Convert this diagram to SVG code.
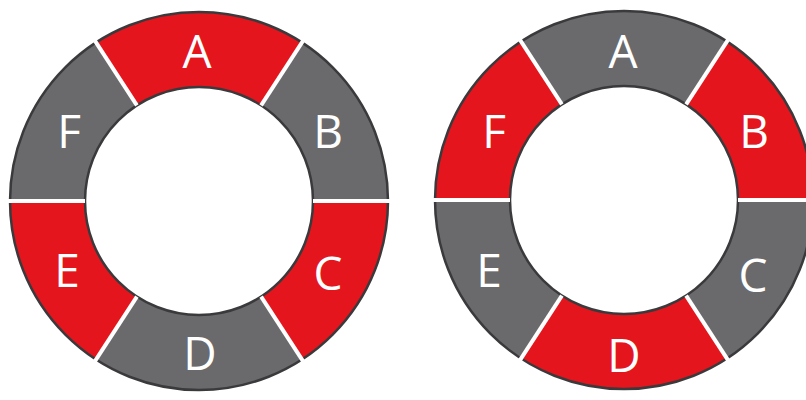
<svg xmlns="http://www.w3.org/2000/svg" xmlns:xlink="http://www.w3.org/1999/xlink" width="806" height="400" viewBox="0 0 806 400">
  <style>
    .red { fill: #e5151d; }
    .gray { fill: #6a6a6c; }
    .lbl { fill: #ffffff; font-family: "Open Sans", "Liberation Sans", sans-serif; font-size: 46px; text-anchor: middle; }
    .rim { fill: none; stroke: #3a3a3c; stroke-width: 2.5; }
    .div { stroke: #ffffff; stroke-width: 4; }
  </style>
  <defs>
    <path id="sA" d="M102.9,-158.5 A189,189 0 0 0 -102.9,-158.5 L-62.1,-95.6 A114,114 0 0 1 62.1,-95.6 Z"/>
    <path id="sB" d="M189,0 A189,189 0 0 0 102.9,-158.5 L62.1,-95.6 A114,114 0 0 1 114,0 Z"/>
    <path id="sC" d="M102.9,158.5 A189,189 0 0 0 189,0 L114,0 A114,114 0 0 1 62.1,95.6 Z"/>
    <path id="sD" d="M-102.9,158.5 A189,189 0 0 0 102.9,158.5 L62.1,95.6 A114,114 0 0 1 -62.1,95.6 Z"/>
    <path id="sE" d="M-189,0 A189,189 0 0 0 -102.9,158.5 L-62.1,95.6 A114,114 0 0 1 -114,0 Z"/>
    <path id="sF" d="M-102.9,-158.5 A189,189 0 0 0 -189,0 L-114,0 A114,114 0 0 1 -62.1,-95.6 Z"/>
    <g id="dividers">
      <line class="div" x1="114" y1="0" x2="191" y2="0"/>
      <line class="div" x1="-114" y1="0" x2="-191" y2="0"/>
      <line class="div" x1="62.1" y1="-95.6" x2="104" y2="-160.2"/>
      <line class="div" x1="-62.1" y1="-95.6" x2="-104" y2="-160.2"/>
      <line class="div" x1="62.1" y1="95.6" x2="104" y2="160.2"/>
      <line class="div" x1="-62.1" y1="95.6" x2="-104" y2="160.2"/>
    </g>
  </defs>

  <g id="ring-left" transform="translate(199,201)">
    <g id="left-A"><use href="#sA" class="red"/><text class="lbl" x="-2" y="-133">A</text></g>
    <g id="left-B"><use href="#sB" class="gray"/><text class="lbl" x="129" y="-53">B</text></g>
    <g id="left-C"><use href="#sC" class="red"/><text class="lbl" x="129" y="89">C</text></g>
    <g id="left-D"><use href="#sD" class="gray"/><text class="lbl" x="1" y="169">D</text></g>
    <g id="left-E"><use href="#sE" class="red"/><text class="lbl" x="-132" y="86">E</text></g>
    <g id="left-F"><use href="#sF" class="gray"/><text class="lbl" x="-130" y="-53">F</text></g>
    <circle class="rim" r="189"/>
    <circle class="rim" r="114"/>
    <g id="connectors-left"><use href="#dividers"/></g>
  </g>

  <g id="ring-right" transform="translate(624,200)">
    <g id="right-A"><use href="#sA" class="gray"/><text class="lbl" x="-1" y="-132">A</text></g>
    <g id="right-B"><use href="#sB" class="red"/><text class="lbl" x="130" y="-52">B</text></g>
    <g id="right-C"><use href="#sC" class="gray"/><text class="lbl" x="129" y="92">C</text></g>
    <g id="right-D"><use href="#sD" class="red"/><text class="lbl" x="0" y="172">D</text></g>
    <g id="right-E"><use href="#sE" class="gray"/><text class="lbl" x="-135" y="87">E</text></g>
    <g id="right-F"><use href="#sF" class="red"/><text class="lbl" x="-130" y="-52">F</text></g>
    <circle class="rim" r="189"/>
    <circle class="rim" r="114"/>
    <g id="connectors-right"><use href="#dividers"/></g>
  </g>
</svg>
